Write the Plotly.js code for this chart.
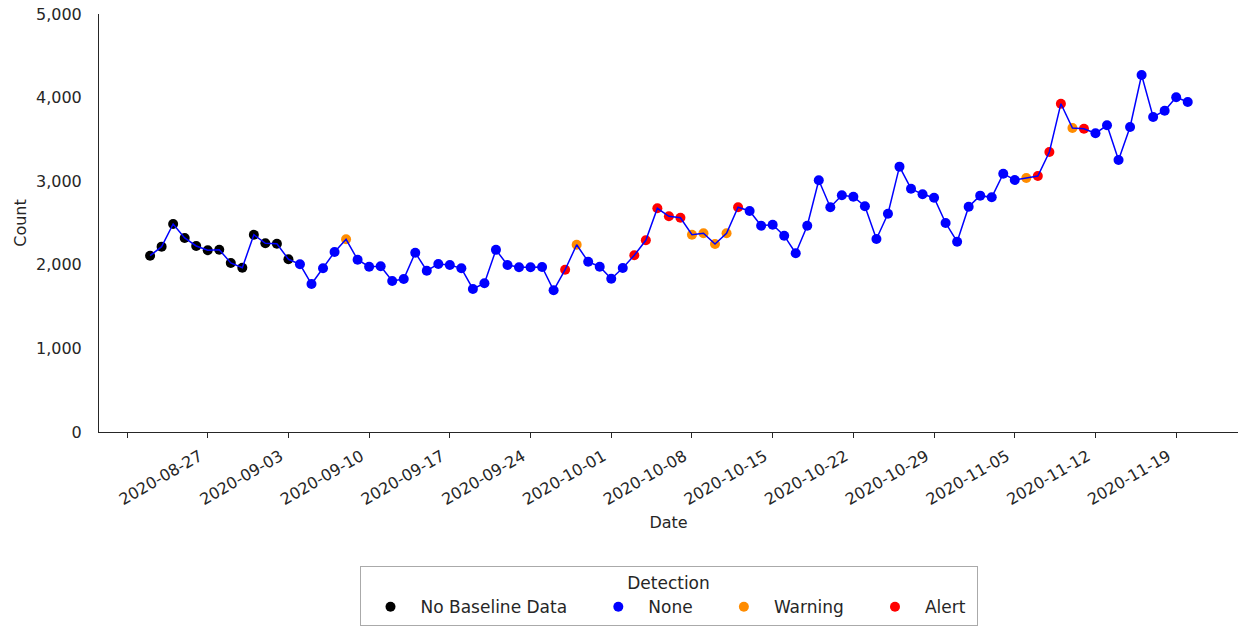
<!DOCTYPE html>
<html>
<head>
<meta charset="utf-8">
<script src="https://cdn.plot.ly/plotly-3.0.1.min.js"></script>
<style>html,body{margin:0;padding:0;background:#fff;}#chart{width:1238px;height:630px;}</style>
</head>
<body>
<div id="chart"></div>
<script>
const dates = [
 "2020-08-22","2020-08-23","2020-08-24","2020-08-25","2020-08-26","2020-08-27","2020-08-28","2020-08-29","2020-08-30","2020-08-31",
 "2020-09-01","2020-09-02","2020-09-03","2020-09-04","2020-09-05","2020-09-06","2020-09-07","2020-09-08","2020-09-09","2020-09-10",
 "2020-09-11","2020-09-12","2020-09-13","2020-09-14","2020-09-15","2020-09-16","2020-09-17","2020-09-18","2020-09-19","2020-09-20",
 "2020-09-21","2020-09-22","2020-09-23","2020-09-24","2020-09-25","2020-09-26","2020-09-27","2020-09-28","2020-09-29","2020-09-30",
 "2020-10-01","2020-10-02","2020-10-03","2020-10-04","2020-10-05","2020-10-06","2020-10-07","2020-10-08","2020-10-09","2020-10-10",
 "2020-10-11","2020-10-12","2020-10-13","2020-10-14","2020-10-15","2020-10-16","2020-10-17","2020-10-18","2020-10-19","2020-10-20",
 "2020-10-21","2020-10-22","2020-10-23","2020-10-24","2020-10-25","2020-10-26","2020-10-27","2020-10-28","2020-10-29","2020-10-30",
 "2020-10-31","2020-11-01","2020-11-02","2020-11-03","2020-11-04","2020-11-05","2020-11-06","2020-11-07","2020-11-08","2020-11-09",
 "2020-11-10","2020-11-11","2020-11-12","2020-11-13","2020-11-14","2020-11-15","2020-11-16","2020-11-17","2020-11-18","2020-11-19",
 "2020-11-20"
];

const counts = [
 2109,2217,2488,2321,2225,2174,2181,2022,1965,2360,2257,2252,2066,
 2006,1770,1958,2153,2305,2061,1977,1982,1806,1830,2145,1929,2010,1998,1958,1711,1779,
 2179,1998,1970,1970,1974,1695,1941,2240,2037,1977,1834,1962,2114,2293,2676,2580,2563,
 2360,2377,2249,2377,2688,2644,2468,2480,2348,2138,2468,3011,2688,2831,2815,2700,2309,
 2611,3174,2910,2843,2803,2500,2276,2695,2827,2807,3090,3014,3038,3062,3349,3927,3636,
 3628,3573,3669,3254,3648,4270,3768,3843,4004,3947
];

const B = "No Baseline Data", N = "None", W = "Warning", A = "Alert";
const detection = [
 B,B,B,B,B,B,B,B,B,B,B,B,B,
 N,N,N,N,W,N,N,N,N,N,N,N,N,N,N,N,N,
 N,N,N,N,N,N,A,W,N,N,N,N,A,A,A,A,A,
 W,W,W,W,A,N,N,N,N,N,N,N,N,N,N,N,N,
 N,N,N,N,N,N,N,N,N,N,N,N,W,A,A,A,W,
 A,N,N,N,N,N,N,N,N,N
];

const categories = [B, N, W, A];
const categoryColors = ["#000000", "#0000ff", "#ff8c00", "#ff0000"];

const tickDates = ["2020-08-20","2020-08-27","2020-09-03","2020-09-10","2020-09-17","2020-09-24","2020-10-01",
 "2020-10-08","2020-10-15","2020-10-22","2020-10-29","2020-11-05","2020-11-12","2020-11-19"];
const tickLabels = ["","2020-08-27","2020-09-03","2020-09-10","2020-09-17","2020-09-24","2020-10-01",
 "2020-10-08","2020-10-15","2020-10-22","2020-10-29","2020-11-05","2020-11-12","2020-11-19"];

const yTicks = [0,1000,2000,3000,4000,5000];

const FONT = "DejaVu Sans, sans-serif";
const TXT = "#262626";
const PAD = "\u00a0\u00a0\u00a0";
const PAD_LAST = "\u00a0";

const traces = categories.map((cat, ci) => {
  const xs = [], ys = [];
  detection.forEach((d, i) => { if (d === cat) { xs.push(dates[i]); ys.push(counts[i]); } });
  return {
    type: "scatter", mode: "markers",
    name: cat + (ci < categories.length - 1 ? PAD : PAD_LAST),
    x: xs, y: ys,
    marker: {color: categoryColors[ci], size: 10, line: {width: 0}},
    hoverinfo: "x+y"
  };
});
traces.push({
  type: "scatter", mode: "lines", x: dates, y: counts, showlegend: false,
  line: {color: "#0000ff", width: 1.5}, hoverinfo: "skip"
});

const layout = {
  width: 1238, height: 630,
  margin: {l: 99, r: 0, t: 14, b: 198, autoexpand: false},
  paper_bgcolor: "#ffffff", plot_bgcolor: "#ffffff",
  font: {family: FONT, size: 16, color: TXT},
  showlegend: true,
  xaxis: {
    type: "date",
    range: ["2020-08-17 13:40", "2020-11-24 08:40"],
    tickmode: "array", tickvals: tickDates, ticktext: tickLabels,
    tickangle: -30,
    ticks: "outside", ticklen: 5, tickwidth: 1, tickcolor: TXT,
    ticklabelshift: -8, ticklabelstandoff: 3,
    showline: true, linecolor: TXT, linewidth: 1,
    showgrid: false, zeroline: false,
    tickfont: {family: FONT, size: 16, color: TXT},
    title: {text: "Date", font: {family: FONT, size: 16, color: TXT}, standoff: 8}
  },
  yaxis: {
    range: [0, 5000],
    tickmode: "array", tickvals: yTicks, tickformat: ",",
    ticks: "", ticklabelstandoff: 13,
    showline: true, linecolor: TXT, linewidth: 1,
    showgrid: false, zeroline: false,
    tickfont: {family: FONT, size: 16, color: TXT},
    title: {text: "Count", font: {family: FONT, size: 16, color: TXT}, standoff: 5}
  },
  legend: {
    orientation: "h",
    x: 0.5, xanchor: "center",
    y: -0.3206, yanchor: "top",
    bgcolor: "#ffffff", bordercolor: "#aaaaaa", borderwidth: 1,
    itemwidth: 50,
    font: {family: FONT, size: 17, color: TXT},
    title: {text: "Detection", side: "top center", font: {family: FONT, size: 17, color: TXT}},
    itemclick: false, itemdoubleclick: false
  }
};

Plotly.newPlot("chart", traces, layout, {displayModeBar: false, staticPlot: true});
</script>
</body>
</html>
